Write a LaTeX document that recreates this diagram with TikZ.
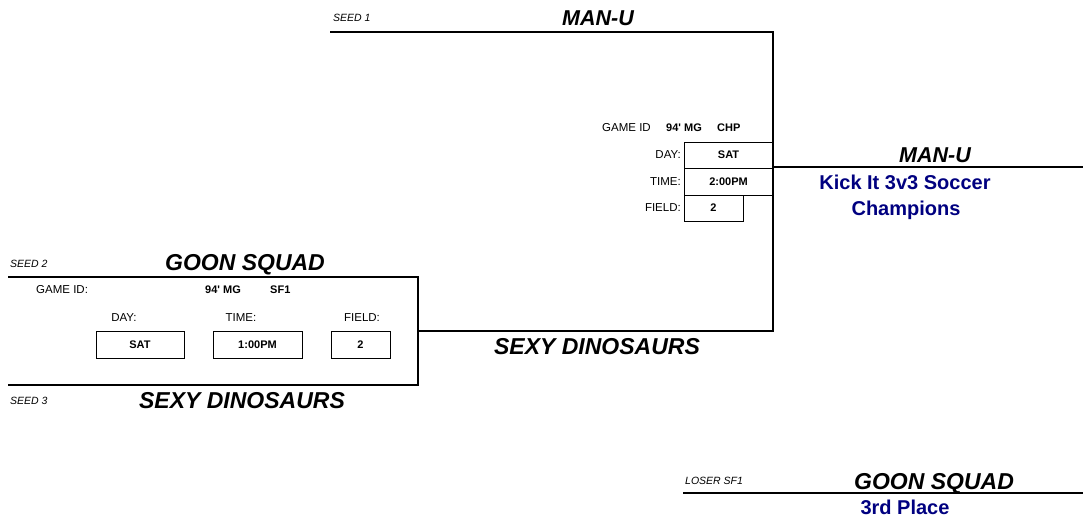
\documentclass[tikz,border=0pt]{standalone}
\usepackage{fontspec}
\setmainfont{Liberation Sans}
\usetikzlibrary{positioning}
\definecolor{prizeblue}{RGB}{0,0,128}

\begin{document}
\begin{tikzpicture}[x=1pt, y=-1pt,
    team/.style={font=\fontsize{23}{23}\selectfont\bfseries\itshape, inner sep=0pt, text depth=0pt},
    shortteam/.style={team, font=\fontsize{21.5}{23}\selectfont\bfseries\itshape},
    seedlbl/.style={font=\fontsize{10.5}{11}\selectfont\itshape, anchor=west, inner sep=0pt},
    infolbl/.style={font=\fontsize{11.5}{12}\selectfont, inner sep=0pt},
    infoval/.style={font=\fontsize{11}{12}\selectfont\bfseries, inner sep=0pt},
    cellbox/.style={draw, line width=0.8pt, font=\fontsize{11}{12}\selectfont\bfseries, inner sep=0pt},
    bracket/.style={line width=1.8pt},
    prize/.style={font=\fontsize{20}{22}\selectfont\bfseries, text=prizeblue, inner sep=0pt, anchor=base}]

    \useasboundingbox (0,0) rectangle (1083,519);

    % Bracket corners
    \coordinate (s1start) at (330,32);
    \coordinate (s1end) at (773,32);
    \coordinate (finalin) at (773,331);
    \coordinate (champend) at (1083,167);
    \coordinate (champstart) at (773,167);
    \coordinate (s2start) at (8,277);
    \coordinate (s2end) at (418,277);
    \coordinate (s3end) at (418,385);
    \coordinate (s3start) at (8,385);
    \coordinate (sfout) at (418,331);
    \coordinate (thirdstart) at (683,493);
    \coordinate (thirdend) at (1083,493);

    % Lines
    \draw[bracket] (s1start) -- (s1end) -- (finalin) -- (sfout);
    \draw[bracket] (s2start) -- (s2end) -- (s3end) -- (s3start);
    \draw[bracket] (champstart) -- (champend);
    \draw[bracket] (thirdstart) -- (thirdend);

    % Seeds and teams
    \node[seedlbl] (seed1) at (333,18) {SEED 1};
    \node[shortteam] (team1) at (598,18) {MAN-U};
    \node[seedlbl] (seed2) at (10,264) {SEED 2};
    \node[team] (team2) at (245,262) {GOON SQUAD};
    \node[seedlbl] (seed3) at (10,401) {SEED 3};
    \node[team] (team3) at (242,400) {SEXY DINOSAURS};
    \node[team] (sfwin) at (597,346) {SEXY DINOSAURS};
    \node[shortteam] (champ) at (935,155) {MAN-U};
    \node[seedlbl] (loser) at (685,481) {LOSER SF1};
    \node[team] (third) at (934,481) {GOON SQUAD};

    % Semi final info
    \node[infolbl, anchor=west] (sfgame) at (36,290) {GAME ID:};
    \node[infoval, anchor=west] (sfmg) at (205,290) {94\textquotesingle{} MG};
    \node[infoval, anchor=west] (sfid) at (270,290) {SF1};
    \node[infolbl] (sfday) at (124,318) {DAY:};
    \node[infolbl] (sftime) at (241,318) {TIME:};
    \node[infolbl] (sffield) at (362,318) {FIELD:};
    \node[cellbox, minimum width=88, minimum height=27] (sfdayv) at (140,344.5) {SAT};
    \node[cellbox, minimum width=89, minimum height=27] (sftimev) at (257.5,344.5) {1:00PM};
    \node[cellbox, minimum width=59, minimum height=27] (sffieldv) at (360.5,344.5) {2};

    % Final info
    \node[infolbl, anchor=west] (fgame) at (602,128) {GAME ID};
    \node[infoval, anchor=west] (fmg) at (666,128) {94\textquotesingle{} MG};
    \node[infoval, anchor=west] (fid) at (717,128) {CHP};
    \node[cellbox, minimum width=89, minimum height=26] (fdayv) at (728.5,155) {SAT};
    \node[cellbox, minimum width=89, minimum height=27] (ftimev) at (728.5,181.5) {2:00PM};
    \node[cellbox, minimum width=59, minimum height=26] (ffieldv) at (713.5,208) {2};
    \node[infolbl, anchor=east] (fday) at (681,155) {DAY:};
    \node[infolbl, anchor=east] (ftime) at (681,181.5) {TIME:};
    \node[infolbl, anchor=east] (ffield) at (681,208) {FIELD:};

    % Prizes
    \node[prize] (kick) at (905,189) {Kick It 3v3 Soccer};
    \node[prize] (champs) at (906,215) {Champions};
    \node[prize] (place) at (905,514) {3rd Place};
\end{tikzpicture}
\end{document}
